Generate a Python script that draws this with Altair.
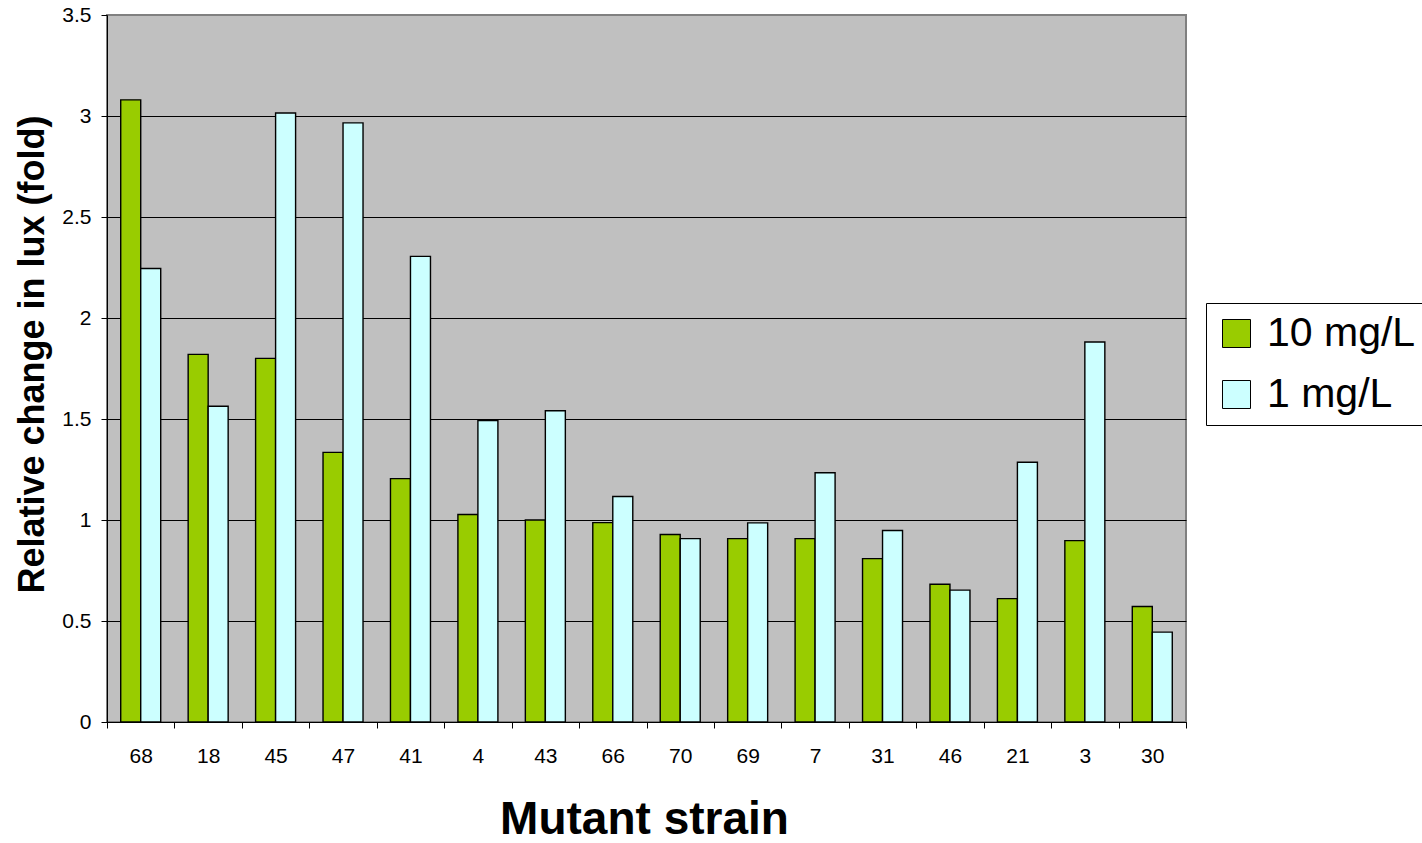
import altair as alt
import pandas as pd

strains = ["68", "18", "45", "47", "41", "4", "43", "66", "70", "69", "7", "31", "46", "21", "3", "30"]
ten_mg = [3.08, 1.82, 1.80, 1.335, 1.205, 1.027, 1.0, 0.987, 0.928, 0.908, 0.908, 0.809, 0.682, 0.611, 0.898, 0.572]
one_mg = [2.245, 1.563, 3.015, 2.966, 2.305, 1.492, 1.541, 1.116, 0.908, 0.986, 1.234, 0.948, 0.653, 1.286, 1.881, 0.445]
series_names = ["10 mg/L", "1 mg/L"]
series_colors = ["#99CC00", "#CCFFFF"]
y_ticks = [0, 0.5, 1, 1.5, 2, 2.5, 3, 3.5]

rows = []
for s, a, b in zip(strains, ten_mg, one_mg):
    rows.append({"strain": s, "series": series_names[0], "value": a})
    rows.append({"strain": s, "series": series_names[1], "value": b})
df = pd.DataFrame(rows)

FONT = "Liberation Sans"
W, H = 1079, 707

chart = alt.Chart(df).mark_bar(stroke="black", strokeWidth=1.4).encode(
    x=alt.X(
        "strain:N",
        sort=strains,
        scale=alt.Scale(paddingInner=0, paddingOuter=0),
        axis=alt.Axis(
            title="Mutant strain",
            titleFont=FONT,
            titleFontSize=46,
            titleFontWeight="bold",
            titleColor="black",
            titleAlign="center",
            titleBaseline="alphabetic",
            titleX=537,
            titleY=111,
            labelFont=FONT,
            labelFontSize=21,
            labelColor="black",
            labelAngle=0,
            labelPadding=17,
            tickBand="extent",
            tickSize=6,
            tickColor="black",
            domainColor="black",
            domainWidth=1,
            grid=False,
        ),
    ),
    xOffset=alt.XOffset(
        "series:N",
        sort=series_names,
        scale=alt.Scale(paddingInner=0, paddingOuter=0.686),
    ),
    y=alt.Y(
        "value:Q",
        scale=alt.Scale(domain=[0, 3.5], nice=False, zero=True),
        axis=alt.Axis(
            title="Relative change in lux (fold)",
            titleFont=FONT,
            titleFontSize=36,
            titleFontWeight="bold",
            titleColor="black",
            titleAlign="center",
            titleBaseline="alphabetic",
            titleAngle=270,
            titleX=-64,
            titleY=339,
            values=y_ticks,
            format="~g",
            labelFont=FONT,
            labelFontSize=21,
            labelColor="black",
            labelPadding=10,
            tickSize=6,
            tickColor="black",
            domainColor="black",
            domainWidth=1,
            grid=True,
            gridColor={"condition": {"test": "datum.value >= 3.5", "value": "#808080"}, "value": "black"},
            gridWidth=1,
        ),
    ),
    color=alt.Color(
        "series:N",
        sort=series_names,
        scale=alt.Scale(domain=series_names, range=series_colors),
        legend=alt.Legend(
            title=None,
            orient="none",
            legendX=1099,
            legendY=288,
            symbolType="square",
            symbolSize=784,
            symbolStrokeColor="black",
            symbolStrokeWidth=1,
            symbolOpacity=1,
            labelFont=FONT,
            labelFontSize=41,
            labelColor="black",
            labelOffset=10,
            rowPadding=19,
            padding=10,
            strokeColor="black",
            fillColor="white",
            labelLimit=400,
        ),
    ),
).properties(
    width=W,
    height=H,
    autosize=alt.AutoSizeParams(type="none"),
    padding={"left": 107, "top": 15, "right": 1422 - 107 - W, "bottom": 843 - 15 - H},
).configure(
    background="white",
    view=alt.ViewConfig(fill="#C0C0C0", stroke="#808080", strokeWidth=2),
)

chart.save("out.html", embed_options={"renderer": "svg", "actions": False})
